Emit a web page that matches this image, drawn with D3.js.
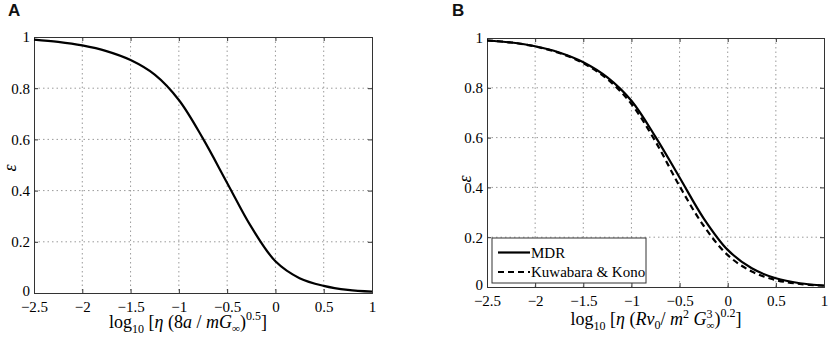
<!DOCTYPE html>
<html><head><meta charset="utf-8">
<script src="https://cdn.jsdelivr.net/npm/d3@7"></script>
<style>body{margin:0;background:#fff}</style>
</head><body><svg id="c" width="829" height="342" xmlns="http://www.w3.org/2000/svg"></svg>
<script>
// ---- data ----
const xTicks = [-2.5, -2, -1.5, -1, -0.5, 0, 0.5, 1];
const xTickLabels = ["\u22122.5", "\u22122", "\u22121.5", "\u22121", "\u22120.5", "0", "0.5", "1"];
const yTicks = [0, 0.2, 0.4, 0.6, 0.8, 1];
const yTickLabels = ["0", "0.2", "0.4", "0.6", "0.8", "1"];
const logEta = [-2.5, -2.25, -2.0, -1.75, -1.5, -1.25, -1.0, -0.75, -0.5, -0.25, 0, 0.25, 0.5, 0.75, 1.0];
const epsA   = [0.990, 0.981, 0.967, 0.945, 0.910, 0.853, 0.754, 0.603, 0.430, 0.258, 0.124, 0.058, 0.028, 0.012, 0.005];
const epsMDR = [0.990, 0.982, 0.967, 0.942, 0.903, 0.842, 0.748, 0.603, 0.440, 0.276, 0.149, 0.075, 0.035, 0.015, 0.006];
const epsKK  = [0.990, 0.982, 0.966, 0.940, 0.899, 0.835, 0.735, 0.584, 0.405, 0.246, 0.128, 0.062, 0.028, 0.012, 0.005];
const legendLabels = ["MDR", "Kuwabara & Kono"];
const panelLetters = ["A", "B"];

const SERIF = "'Liberation Serif','Times New Roman',serif";
const SANS = "'Liberation Sans',Arial,sans-serif";
const svg = d3.select("#c");

function panel(o) {
  const g = svg.append("g");
  const x = d3.scaleLinear().domain([-2.5, 1]).range([o.left, o.right]);
  const y = d3.scaleLinear().domain([0, 1]).range([o.bottom, o.top]);

  // grid
  g.selectAll(".gx").data(xTicks.slice(1, -1)).enter().append("line")
    .attr("x1", d => x(d)).attr("x2", d => x(d)).attr("y1", o.top).attr("y2", o.bottom)
    .attr("stroke", "#9a9a9a").attr("stroke-width", 1).attr("stroke-dasharray", "1.5,3");
  g.selectAll(".gy").data(yTicks.slice(1, -1)).enter().append("line")
    .attr("y1", d => y(d)).attr("y2", d => y(d)).attr("x1", o.left).attr("x2", o.right)
    .attr("stroke", "#9a9a9a").attr("stroke-width", 1).attr("stroke-dasharray", "1.5,3");

  // axes with inward ticks on all sides
  const ax = [
    [d3.axisBottom(x).tickValues(xTicks).tickFormat((d, i) => xTickLabels[i]).tickSize(-4).tickPadding(8), `translate(0,${o.bottom})`],
    [d3.axisTop(x).tickValues(xTicks).tickFormat("").tickSize(-4), `translate(0,${o.top})`],
    [d3.axisLeft(y).tickValues(yTicks).tickFormat((d, i) => yTickLabels[i]).tickSize(-4).tickPadding(4), `translate(${o.left},0)`],
    [d3.axisRight(y).tickValues(yTicks).tickFormat("").tickSize(-4), `translate(${o.right},0)`]
  ];
  ax.forEach(([a, t], k) => {
    const ag = g.append("g").attr("transform", t).call(a);
    ag.attr("font-family", SERIF).attr("font-size", 15);
    ag.select(".domain").attr("stroke", "#333");
    ag.selectAll(".tick line").attr("stroke", "#333");
    ag.selectAll("text").attr("font-family", SERIF).attr("font-size", 15).attr("fill", "#000");
    if (k === 2) ag.selectAll(".tick text").filter(d => d === 0).attr("dy", "0.15em");
  });

  // lines
  const line = d3.line().x((d, i) => x(logEta[i])).y(d => y(d)).curve(d3.curveCatmullRom.alpha(0.5));
  o.series.forEach(s => {
    g.append("path").datum(s.values).attr("d", line).attr("fill", "none")
      .attr("stroke", "#000").attr("stroke-width", 2.2)
      .attr("stroke-dasharray", s.dash || null);
  });

  // y label
  g.append("text").attr("transform", `translate(${o.ylabX},${o.ylabY}) rotate(-90)`)
    .attr("text-anchor", "middle").attr("font-family", SERIF).attr("font-style", "italic")
    .attr("font-size", 18).attr("fill", "#000").text("\u03b5");

  // panel letter
  g.append("text").attr("x", o.letterX).attr("y", 16).attr("font-family", SANS)
    .attr("font-weight", "bold").attr("font-size", 17).attr("fill", "#111").text(o.letter);

  // x label
  const t = g.append("text").attr("x", o.xlabX).attr("y", o.xlabY).attr("text-anchor", "middle")
    .attr("font-family", SERIF).attr("font-size", 18).attr("fill", "#000");
  o.xlabParts.forEach(p => {
    const ts = t.append("tspan").text(p.t);
    if (p.i) ts.attr("font-style", "italic");
    if (p.s) ts.attr("font-size", p.s);
    if (p.dy) ts.attr("dy", p.dy);
    if (p.dx) ts.attr("dx", p.dx);
  });
  return {g, x, y};
}

panel({
  left: 34, right: 372, top: 37, bottom: 293, letter: panelLetters[0], letterX: 8,
  ylabX: 16, ylabY: 168, xlabX: 188, xlabY: 328,
  series: [{values: epsA}],
  xlabParts: [
    {t: "log"}, {t: "10", s: 12, dy: 5}, {t: " [", dy: -5}, {t: "\u03b7", i: 1}, {t: " (8"}, {t: "a", i: 1},
    {t: " / "}, {t: "m", i: 1}, {t: "G", i: 1}, {t: "\u221e", s: 11, dy: 4, i: 1}, {t: ")", dy: -4},
    {t: "0.5", s: 12, dy: -8}, {t: "]", dy: 8}
  ]
});

const pB = panel({
  left: 487, right: 824, top: 38, bottom: 287, letter: panelLetters[1], letterX: 452,
  ylabX: 471, ylabY: 179, xlabX: 656, xlabY: 325,
  series: [{values: epsMDR}, {values: epsKK, dash: "6,4"}],
  xlabParts: [
    {t: "log"}, {t: "10", s: 12, dy: 5}, {t: " [", dy: -5}, {t: "\u03b7", i: 1}, {t: " ("}, {t: "Rv", i: 1},
    {t: "0", s: 12, dy: 4}, {t: "/ ", dy: -4}, {t: "m", i: 1}, {t: "2", s: 12, dy: -7}, {t: " ", dy: 7},
    {t: "G", i: 1}, {t: "3", s: 12, dy: -7}, {t: "\u221e", s: 11, dx: -6, dy: 11, i: 1}, {t: ")", dy: -4},
    {t: "0.2", s: 12, dy: -8}, {t: "]", dy: 8}
  ]
});

// legend in panel B
const lg = pB.g.append("g");
lg.append("rect").attr("x", 492).attr("y", 238).attr("width", 154).attr("height", 45)
  .attr("fill", "#fff").attr("stroke", "#333").attr("stroke-width", 1);
legendLabels.forEach((lab, i) => {
  const yy = 252.5 + i * 19.5;
  lg.append("line").attr("x1", 498).attr("x2", 530).attr("y1", yy).attr("y2", yy)
    .attr("stroke", "#000").attr("stroke-width", 2.2).attr("stroke-dasharray", i ? "6,4" : null);
  lg.append("text").attr("x", 531).attr("y", yy + 5).attr("font-family", SERIF)
    .attr("font-size", 15).attr("fill", "#000").text(lab);
});
</script></body></html>
